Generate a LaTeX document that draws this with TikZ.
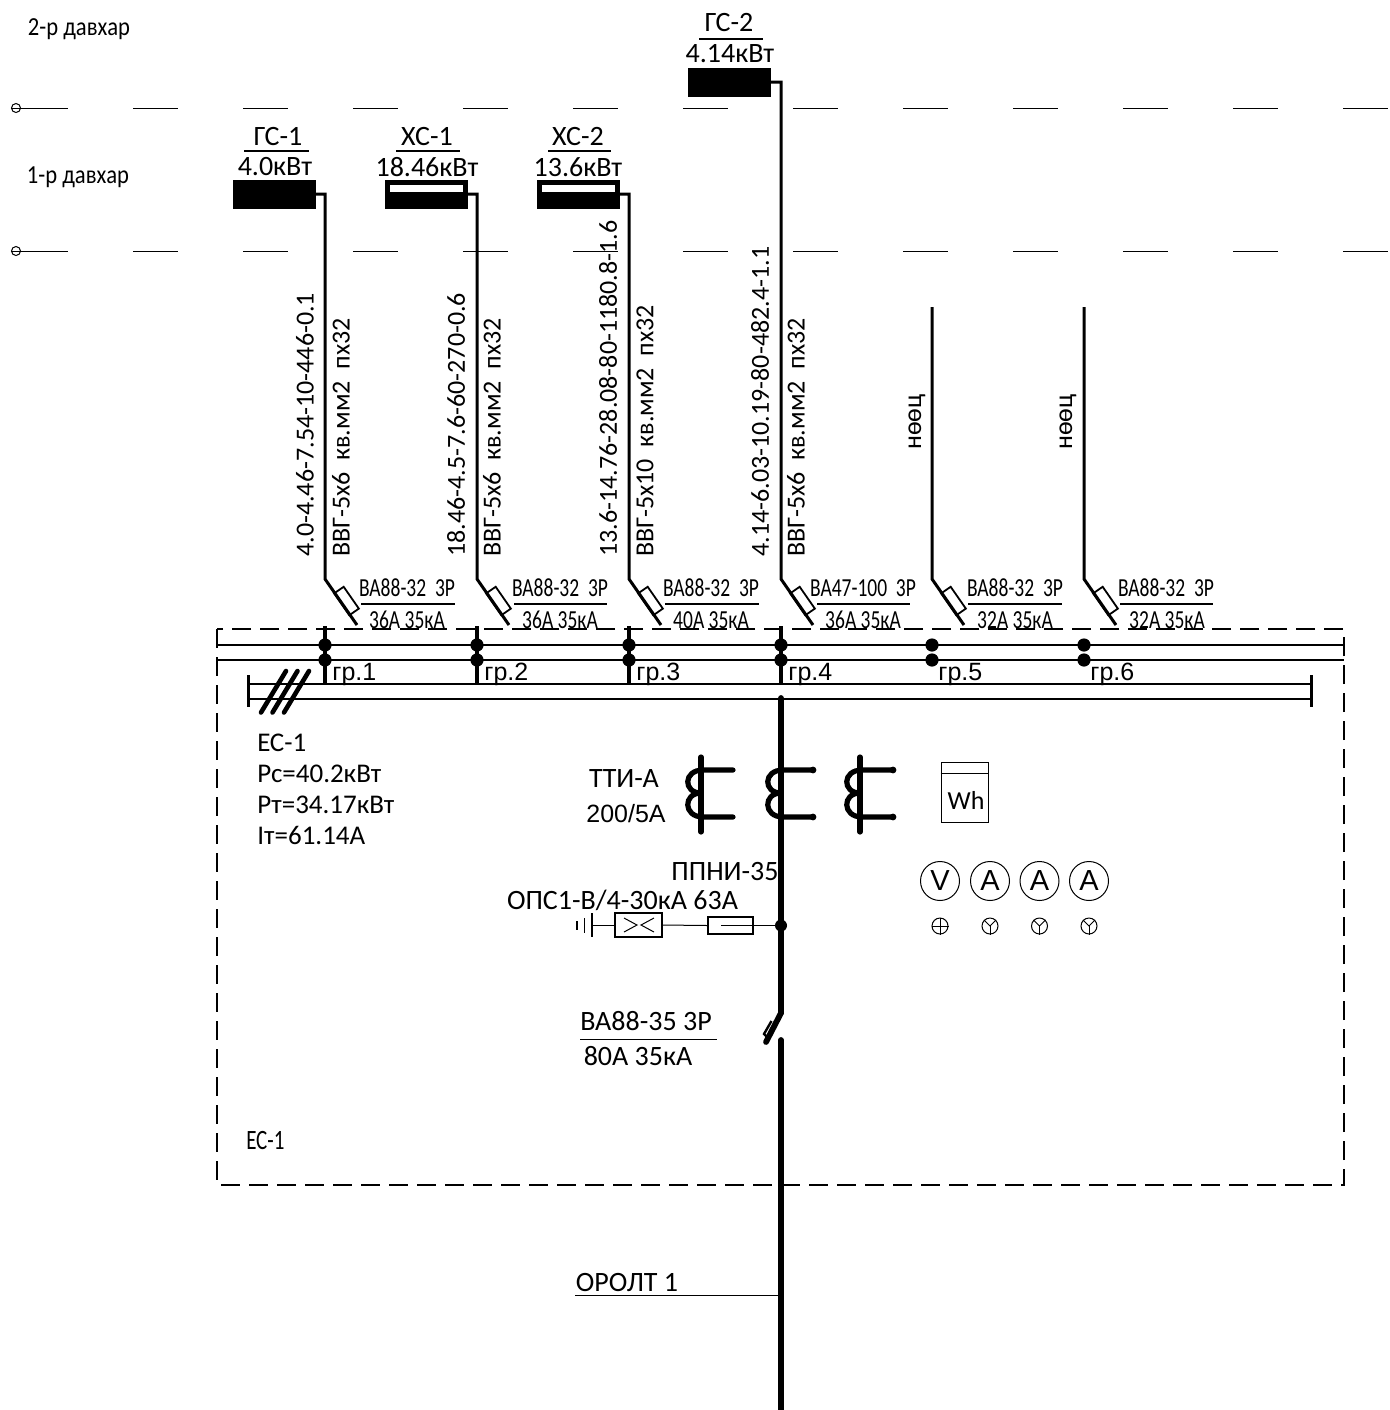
\documentclass[tikz,border=0pt]{standalone}
\usepackage{fontspec}
\setmainfont{Carlito}
\newfontfamily\arialfont{Liberation Sans}
\newfontfamily\narrowfont[FakeStretch=0.75]{Carlito}
\newfontfamily\floorfont[FakeStretch=0.87]{Carlito}
\usetikzlibrary{arrows,positioning}

\begin{document}
\begin{tikzpicture}
	[x=0.5pt, y=-0.5pt, inner sep=0pt,
	txt/.style	= {font=\fontsize{13}{15}\selectfont},
	txtp/.style	= {font=\fontsize{13.5}{15}\selectfont},
	txtn/.style	= {font=\narrowfont\fontsize{13}{15}\selectfont},
	txtf/.style	= {font=\floorfont\fontsize{13}{15}\selectfont},
	txtbig/.style	= {font=\fontsize{14}{16}\selectfont},
	arl/.style	= {font=\arialfont\fontsize{12.5}{15}\selectfont},
	grp/.style	= {font=\arialfont\fontsize{12.5}{15}\selectfont},
	load/.style	= {rectangle,draw,fill=black,minimum width=41pt,minimum height=14pt},
	loadin/.style	= {rectangle,draw=none,fill=white,minimum width=36.5pt,minimum height=3.6pt},
	wire/.style	= {line width=1.5pt},
	bus/.style	= {line width=1.1pt},
	thick bar/.style = {line width=2.9pt},
	thin line/.style = {line width=0.5pt},
	brk/.style	= {rectangle,draw,line width=0.9pt,minimum width=13.3pt,minimum height=5.8pt},
	dot/.style	= {circle,draw=none,fill=black,minimum size=6.6pt},
	ctend/.style	= {circle,draw=none,fill=black,minimum size=3.4pt},
	axis/.style	= {circle,draw,line width=0.5pt,minimum size=4.5pt},
	axisdash/.style	= {line width=0.5pt,dash pattern=on 22.5pt off 32.5pt},
	meter/.style	= {circle,draw,line width=0.5pt,minimum size=19.5pt,font=\arialfont\fontsize{14.5}{15}\selectfont},
	phase/.style	= {circle,draw,line width=0.5pt,minimum size=8pt},
	coil/.style	= {line width=2.6pt,line cap=round}]

	\useasboundingbox (0, 0) rectangle (1389, 1410);

	% floors
	\node at (79, 29)	[txtf]	(fl2)	{2-р давхар};
	\node at (78, 177)	[txtf]	(fl1)	{1-р давхар};

	\node at (16, 108)	[axis]	(ax2)	{};
	\node at (16, 251)	[axis]	(ax1)	{};
	\coordinate (ax2s) at (23, 108);
	\coordinate (ax2e) at (1389, 108);
	\coordinate (ax1s) at (23, 251);
	\coordinate (ax1e) at (1389, 251);
	\draw [thin line] (ax2.west) -- (ax2s);
	\draw [thin line] (ax1.west) -- (ax1s);
	\draw [axisdash] (ax2s) -- (ax2e);
	\draw [axisdash] (ax1s) -- (ax1e);

	% loads
	\node at (274, 194)	[load]	(gs1)	{};
	\node at (426, 194)	[load]	(xc1)	{};
	\node at (578, 194)	[load]	(xc2)	{};
	\node at (729, 82)	[load]	(gs2)	{};
	\node at (426, 188.5)	[loadin]	(xc1in)	{};
	\node at (578, 188.5)	[loadin]	(xc2in)	{};

	\node at (278, 137)	[txtbig]	(gs1a)	{ГС-1};
	\node at (275, 167)	[txtbig]	(gs1b)	{4.0кВт};
	\node at (427, 137)	[txtbig]	(xc1a)	{ХС-1};
	\node at (427, 167)	[txtbig]	(xc1b)	{18.46кВт};
	\node at (578, 137)	[txtbig]	(xc2a)	{ХС-2};
	\node at (578, 167)	[txtbig]	(xc2b)	{13.6кВт};
	\node at (729, 23)	[txtbig]	(gs2a)	{ГС-2};
	\node at (730, 54)	[txtbig]	(gs2b)	{4.14кВт};

	\coordinate (l1w) at (244, 151);
	\coordinate (l1e) at (309, 151);
	\coordinate (l2w) at (396, 151);
	\coordinate (l2e) at (460, 151);
	\coordinate (l3w) at (548, 151);
	\coordinate (l3e) at (611, 151);
	\coordinate (l4w) at (699, 39);
	\coordinate (l4e) at (763, 39);
	\draw [bus] (l1w) -- (l1e);
	\draw [bus] (l2w) -- (l2e);
	\draw [bus] (l3w) -- (l3e);
	\draw [bus] (l4w) -- (l4e);

	% feeders
	\coordinate (f1b) at (325, 579);
	\coordinate (f2b) at (477, 579);
	\coordinate (f3b) at (629, 579);
	\coordinate (f4b) at (781, 579);
	\coordinate (f5b) at (932, 579);
	\coordinate (f6b) at (1084, 579);
	\coordinate (f5t) at (932, 307);
	\coordinate (f6t) at (1084, 307);
	\coordinate (f1e) at (357, 625);
	\coordinate (f2e) at (509, 625);
	\coordinate (f3e) at (661, 625);
	\coordinate (f4e) at (813, 625);
	\coordinate (f5e) at (964, 625);
	\coordinate (f6e) at (1116, 625);

	\draw [wire] (gs1.east) -| (f1b) -- (f1e);
	\draw [wire] (xc1.east) -| (f2b) -- (f2e);
	\draw [wire] (xc2.east) -| (f3b) -- (f3e);
	\draw [wire] (gs2.east) -| (f4b) -- (f4e);
	\draw [wire] (f5t) -- (f5b) -- (f5e);
	\draw [wire] (f6t) -- (f6b) -- (f6e);

	\node at (346.5, 601)	[brk, rotate=-55.2]	(b1)	{};
	\node at (498.5, 601)	[brk, rotate=-55.2]	(b2)	{};
	\node at (650.5, 601)	[brk, rotate=-55.2]	(b3)	{};
	\node at (802.5, 601)	[brk, rotate=-55.2]	(b4)	{};
	\node at (953.5, 601)	[brk, rotate=-55.2]	(b5)	{};
	\node at (1105.5, 601)	[brk, rotate=-55.2]	(b6)	{};

	% cable labels
	\node at (305, 557)	[txt, rotate=90, anchor=west]	(c1a)	{4.0-4.46-7.54-10-446-0.1};
	\node at (341, 557)	[txt, rotate=90, anchor=west]	(c1b)	{ВВГ-5х6\ \ кв.мм2\ \ пх32};
	\node at (456, 557)	[txt, rotate=90, anchor=west]	(c2a)	{18.46-4.5-7.6-60-270-0.6};
	\node at (492, 557)	[txt, rotate=90, anchor=west]	(c2b)	{ВВГ-5х6\ \ кв.мм2\ \ пх32};
	\node at (608, 557)	[txt, rotate=90, anchor=west]	(c3a)	{13.6-14.76-28.08-80-1180.8-1.6};
	\node at (645, 557)	[txt, rotate=90, anchor=west]	(c3b)	{ВВГ-5х10\ \ кв.мм2\ \ пх32};
	\node at (760, 557)	[txt, rotate=90, anchor=west]	(c4a)	{4.14-6.03-10.19-80-482.4-1.1};
	\node at (796, 557)	[txt, rotate=90, anchor=west]	(c4b)	{ВВГ-5х6\ \ кв.мм2\ \ пх32};
	\node at (917, 450)	[txt, rotate=90, anchor=west]	(c5a)	{нөөц};
	\node at (1068, 450)	[txt, rotate=90, anchor=west]	(c6a)	{нөөц};

	% breaker labels
	\node at (407, 588)	[txtn]	(q1a)	{ВА88-32\ \ 3Р};
	\node at (407, 620)	[txtn]	(q1b)	{36А 35кА};
	\node at (560, 588)	[txtn]	(q2a)	{ВА88-32\ \ 3Р};
	\node at (560, 620)	[txtn]	(q2b)	{36А 35кА};
	\node at (711, 588)	[txtn]	(q3a)	{ВА88-32\ \ 3Р};
	\node at (711, 620)	[txtn]	(q3b)	{40А 35кА};
	\node at (863, 588)	[txtn]	(q4a)	{ВА47-100\ \ 3Р};
	\node at (863, 620)	[txtn]	(q4b)	{36А 35кА};
	\node at (1015, 588)	[txtn]	(q5a)	{ВА88-32\ \ 3Р};
	\node at (1015, 620)	[txtn]	(q5b)	{32А 35кА};
	\node at (1166, 588)	[txtn]	(q6a)	{ВА88-32\ \ 3Р};
	\node at (1167, 620)	[txtn]	(q6b)	{32А 35кА};

	\coordinate (u1w) at (361, 604);
	\coordinate (u1e) at (455, 604);
	\coordinate (u2w) at (514, 604);
	\coordinate (u2e) at (607, 604);
	\coordinate (u3w) at (665, 604);
	\coordinate (u3e) at (759, 604);
	\coordinate (u4w) at (817, 604);
	\coordinate (u4e) at (910, 604);
	\coordinate (u5w) at (968, 604);
	\coordinate (u5e) at (1062, 604);
	\coordinate (u6w) at (1120, 604);
	\coordinate (u6e) at (1213, 604);
	\draw [bus] (u1w) -- (u1e);
	\draw [bus] (u2w) -- (u2e);
	\draw [bus] (u3w) -- (u3e);
	\draw [bus] (u4w) -- (u4e);
	\draw [bus] (u5w) -- (u5e);
	\draw [bus] (u6w) -- (u6e);

	% panel frame
	\coordinate (boxnw) at (217, 629);
	\coordinate (boxse) at (1344, 1185);
	\draw [line width=0.7pt, dash pattern=on 9.5pt off 4.5pt] (boxnw) rectangle (boxse);

	% busbars
	\coordinate (bus1w) at (217, 645);
	\coordinate (bus1e) at (1344, 645);
	\coordinate (bus2w) at (217, 660);
	\coordinate (bus2e) at (1344, 660);
	\coordinate (bus3w) at (248, 684);
	\coordinate (bus3e) at (1311, 684);
	\coordinate (bus4w) at (248, 699);
	\coordinate (bus4e) at (1311, 699);
	\draw [bus] (bus1w) -- (bus1e);
	\draw [bus] (bus2w) -- (bus2e);
	\draw [bus] (bus3w) -- (bus3e);
	\draw [bus] (bus4w) -- (bus4e);

	\coordinate (t1a) at (248.5, 675);
	\coordinate (t1b) at (248.5, 707);
	\coordinate (t2a) at (1311.5, 675);
	\coordinate (t2b) at (1311.5, 707);
	\draw [bus] (t1a) -- (t1b);
	\draw [bus] (t2a) -- (t2b);

	\draw [line width=2.3pt, line cap=round] (261, 712.5) -- (286, 671);
	\draw [line width=2.3pt, line cap=round] (272.5, 712.5) -- (297.5, 671);
	\draw [line width=2.3pt, line cap=round] (284, 712.5) -- (309, 671);

	\node at (325, 645)	[dot]	(d1a)	{};
	\node at (325, 660)	[dot]	(d1b)	{};
	\node at (477, 645)	[dot]	(d2a)	{};
	\node at (477, 660)	[dot]	(d2b)	{};
	\node at (629, 645)	[dot]	(d3a)	{};
	\node at (629, 660)	[dot]	(d3b)	{};
	\node at (781, 645)	[dot]	(d4a)	{};
	\node at (781, 660)	[dot]	(d4b)	{};
	\node at (932, 645)	[dot]	(d5a)	{};
	\node at (932, 660)	[dot]	(d5b)	{};
	\node at (1084, 645)	[dot]	(d6a)	{};
	\node at (1084, 660)	[dot]	(d6b)	{};

	\coordinate (s1t) at (325, 626);
	\coordinate (s1b) at (325, 685);
	\coordinate (s2t) at (477, 626);
	\coordinate (s2b) at (477, 685);
	\coordinate (s3t) at (629, 626);
	\coordinate (s3b) at (629, 685);
	\coordinate (s4t) at (781, 626);
	\coordinate (s4b) at (781, 685);
	\draw [thick bar, line width=2.3pt] (s1t) -- (s1b);
	\draw [thick bar, line width=2.3pt] (s2t) -- (s2b);
	\draw [thick bar, line width=2.3pt] (s3t) -- (s3b);
	\draw [thick bar, line width=2.3pt] (s4t) -- (s4b);

	\node at (332, 674)	[grp, anchor=west]	(g1)	{гр.1};
	\node at (484, 674)	[grp, anchor=west]	(g2)	{гр.2};
	\node at (636, 674)	[grp, anchor=west]	(g3)	{гр.3};
	\node at (788, 674)	[grp, anchor=west]	(g4)	{гр.4};
	\node at (938, 674)	[grp, anchor=west]	(g5)	{гр.5};
	\node at (1090, 674)	[grp, anchor=west]	(g6)	{гр.6};

	% main line
	\coordinate (m1) at (781, 698);
	\coordinate (m2) at (781, 1013);
	\coordinate (m3) at (766, 1042);
	\coordinate (m4) at (781, 1040);
	\coordinate (m5) at (781, 1410);
	\draw [thick bar, line cap=round] (m1) -- (m2) -- (m3);
	\draw [thick bar, line cap=round] (m4) -- (m5);
	\draw [line width=1.2pt] (771.5, 1021) -- (764, 1034) -- (767, 1037) -- (775, 1024);

	\node at (257, 743)	[txtp, anchor=west]	(p1)	{ЕС-1};
	\node at (257, 774)	[txtp, anchor=west]	(p2)	{Рс=40.2кВт};
	\node at (257, 805)	[txtp, anchor=west]	(p3)	{Рт=34.17кВт};
	\node at (257, 835)	[txtp, anchor=west]	(p4)	{Iт=61.14А};
	\node at (246, 1140)	[txtn, anchor=west, font=\narrowfont\fontsize{14}{15}\selectfont]	(p5)	{ЕС-1};

	% current transformers
	\node at (624, 779)	[txtbig]	(ct1)	{ТТИ-А};
	\node at (626, 814)	[arl]	(ct2)	{200/5А};
	\draw [thick bar, line width=2.6pt, line cap=round] (701, 757) -- (701, 832);
	\draw [thick bar, line width=2.6pt, line cap=round] (860, 757) -- (860, 832);
	\draw [coil] (733, 770) -- (703, 770) .. controls (683, 770) and (683, 793) .. (701, 793)
		.. controls (683, 793) and (683, 817) .. (703, 817) -- (733, 817);
	\draw [coil] (813, 770) -- (783, 770) .. controls (763, 770) and (763, 793) .. (781, 793)
		.. controls (763, 793) and (763, 817) .. (783, 817) -- (813, 817);
	\draw [coil] (893, 770) -- (862, 770) .. controls (842, 770) and (842, 793) .. (860, 793)
		.. controls (842, 793) and (842, 817) .. (862, 817) -- (893, 817);
	\node at (813, 770)	[ctend]	(e1)	{};
	\node at (813, 817)	[ctend]	(e2)	{};
	\node at (893, 770)	[ctend]	(e3)	{};
	\node at (893, 817)	[ctend]	(e4)	{};

	% meters
	\node at (964.5, 792)	[rectangle, draw, line width=0.5pt, minimum width=23.5pt, minimum height=30pt]	(wh)	{};
	\node at (966, 800)	[txt]	(whtxt)	{Wh};
	\draw [thin line] (wh.west |- 0, 773) -- (wh.east |- 0, 773);

	\node at (940, 881)	[meter]	(mv)	{V};
	\node at (990, 881)	[meter]	(ma1)	{A};
	\node at (1039.5, 881)	[meter]	(ma2)	{A};
	\node at (1089, 881)	[meter]	(ma3)	{A};

	\node at (940, 926)	[phase]	(pv)	{};
	\node at (990, 926)	[phase]	(pa1)	{};
	\node at (1039.5, 926)	[phase]	(pa2)	{};
	\node at (1089, 926)	[phase]	(pa3)	{};
	\draw [thin line] (pv.west) -- (pv.east);
	\draw [thin line] (pv.north) -- (pv.south);
	\draw [thin line] (pa1.north west) -- (pa1.center) -- (pa1.north east);
	\draw [thin line] (pa1.center) -- (pa1.south);
	\draw [thin line] (pa2.north west) -- (pa2.center) -- (pa2.north east);
	\draw [thin line] (pa2.center) -- (pa2.south);
	\draw [thin line] (pa3.north west) -- (pa3.center) -- (pa3.north east);
	\draw [thin line] (pa3.center) -- (pa3.south);

	% surge arrester and fuse
	\node at (725, 871)	[txtbig]	(pp1)	{ППНИ-35};
	\node at (622.5, 900)	[txtbig]	(pp2)	{ОПС1-В/4-30кА 63А};

	\node at (638.5, 925)	[rectangle, draw, line width=0.8pt, minimum width=23.5pt, minimum height=12pt]	(ops)	{};
	\node at (730.5, 925.5)	[rectangle, draw, line width=0.7pt, minimum width=22.5pt, minimum height=8.5pt]	(fu)	{};
	\node at (781, 925.5)	[dot, minimum size=6pt]	(j1)	{};
	\coordinate (gnd) at (592, 925);
	\coordinate (fuin) at (721, 925.5);

	\draw [thin line] (gnd) -- (ops.west);
	\draw [thin line] (ops.east) -- (fu.west);
	\draw [thin line] (fuin) -- (j1);
	\draw [line width=0.9pt] (592, 913) -- (592, 937);
	\draw [line width=0.9pt] (584.5, 918) -- (584.5, 933);
	\draw [line width=0.9pt] (577, 921) -- (577, 930);
	\draw [thin line] (624, 918) -- (637, 925) -- (624, 932);
	\draw [thin line] (654, 918) -- (641, 925) -- (654, 932);

	% input breaker
	\node at (646, 1021)	[txtbig]	(qfa)	{ВА88-35 3Р};
	\node at (638, 1056)	[txtbig]	(qfb)	{80А 35кА};
	\coordinate (qfw) at (580, 1039);
	\coordinate (qfe) at (717, 1039);
	\draw [thin line] (qfw) -- (qfe);

	% input cable
	\node at (627, 1282)	[txtbig]	(or1)	{ОРОЛТ 1};
	\coordinate (orw) at (575, 1295);
	\coordinate (ore) at (781, 1295);
	\draw [thin line] (orw) -- (ore);
\end{tikzpicture}
\end{document}
